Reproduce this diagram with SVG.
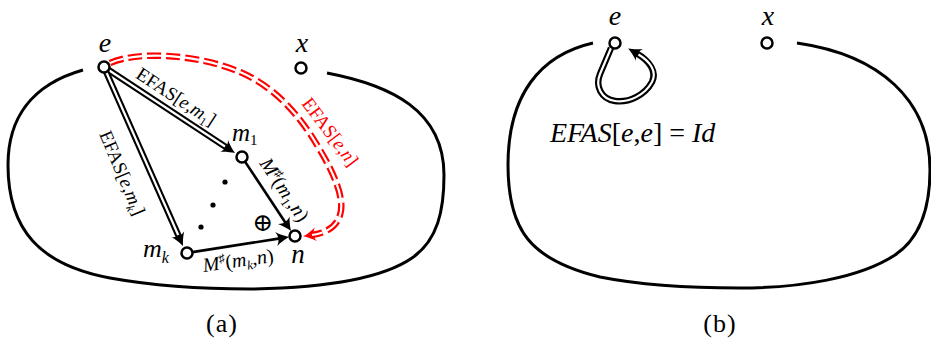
<svg xmlns="http://www.w3.org/2000/svg" width="931" height="339" viewBox="0 0 931 339" font-family="Liberation Serif, Times New Roman, serif">
<style>
.outline{fill:none;stroke:#000;stroke-width:3}
.node{fill:#fff;stroke:#000;stroke-width:2.5}
.dbo{fill:none;stroke:#000;stroke-width:6.5}
.dbi{fill:none;stroke:#fff;stroke-width:2.2}
.sgl{fill:none;stroke:#000;stroke-width:2.6}
.rdo{fill:none;stroke:#f00;stroke-width:6.5;stroke-dasharray:14 5}
.rdi{fill:none;stroke:#fff;stroke-width:2.2;stroke-dasharray:14 5}
.it{font-style:italic}
.lbl{font-size:19px}
.big{font-size:28px;font-style:italic}
.cap{font-size:26px;letter-spacing:1px}
</style>
<defs>
<marker id="ah" viewBox="-6 -8 16 16" refX="0" refY="0" markerWidth="16" markerHeight="16" markerUnits="userSpaceOnUse" orient="auto">
<path d="M9,0 C5,-1.5 0,-4 -4,-7 C-1,-3 -1,3 -4,7 C0,4 5,1.5 9,0 Z" fill="#000"/>
</marker>
<marker id="ahr" viewBox="-6 -8 16 16" refX="0" refY="0" markerWidth="16" markerHeight="16" markerUnits="userSpaceOnUse" orient="auto">
<path d="M9,0 C5,-1.5 0,-4 -4,-7 C-1,-3 -1,3 -4,7 C0,4 5,1.5 9,0 Z" fill="#f00"/>
</marker>
</defs>

<g id="outlines">
<path class="outline" d="M83,70 C30,85 8,120 8,165 C8,230 40,265 110,278 C160,287 210,289 250,289 C320,288 380,280 412,258 C438,240 444,210 444,175 C444,110 390,85 327,73"/>
<path class="outline" d="M593,43 C540,55 508,95 508,165 C508,230 530,260 600,277 C650,287 700,288 740,288 C800,288 860,278 895,255 C922,237 930,205 930,170 C930,100 880,55 797,43"/>
</g>

<g id="connectors">
<path class="rdo" d="M110,63 C140,50 200,55 240,72 C275,87 300,115 320,150 C335,175 345,200 340,215 C336,228 325,233 312,235" marker-end="url(#ahr)"/>
<path class="rdi" d="M110,63 C140,50 200,55 240,72 C275,87 300,115 320,150 C335,175 345,200 340,215 C336,228 325,233 312,235"/>
<path class="dbo" d="M108.6,70 L227.5,148.1" marker-end="url(#ah)"/>
<path class="dbi" d="M108.6,70 L225,146.5"/>
<path class="dbo" d="M106.2,72 L179.4,237.8" marker-end="url(#ah)"/>
<path class="dbi" d="M106.2,72 L178.2,235"/>
<path class="sgl" d="M245,161.6 L286,223.5" marker-end="url(#ah)"/>
<path class="sgl" d="M192.4,252.1 L280.1,238.4" marker-end="url(#ah)"/>
<path class="dbo" d="M611,48 L600,74 C595,86 601,99 615,101 C629,103 645,95 652,82 C657,72 650,61 636,53" marker-end="url(#ah)"/>
<path class="dbi" d="M611,48 L600,74 C595,86 601,99 615,101 C629,103 645,95 652,82 C657,72 651,62 638.5,54.5"/>
</g>

<g id="node-e-a"><circle class="node" cx="104" cy="67" r="5.5"/><text class="big" x="105" y="52" text-anchor="middle">e</text></g>
<g id="node-x-a"><circle class="node" cx="301" cy="68" r="5.5"/><text class="big" x="302" y="52" text-anchor="middle">x</text></g>
<g id="node-m1"><circle class="node" cx="242" cy="157" r="5.5"/><text x="232" y="141" font-size="25"><tspan class="it">m</tspan><tspan font-size="15" dy="4">1</tspan></text></g>
<g id="node-mk"><circle class="node" cx="187" cy="253" r="5.5"/><text x="143" y="257" font-size="26"><tspan class="it">m</tspan><tspan class="it" font-size="16" dy="6">k</tspan></text></g>
<g id="node-n"><circle class="node" cx="295" cy="236" r="5.5"/><text class="it" x="298" y="263" font-size="27" text-anchor="middle">n</text></g>
<g id="node-e-b"><circle class="node" cx="615" cy="43" r="5.5"/><text class="big" x="615" y="25" text-anchor="middle">e</text></g>
<g id="node-x-b"><circle class="node" cx="767" cy="43" r="5.5"/><text class="big" x="768" y="25" text-anchor="middle">x</text></g>

<g id="labels">
<text class="lbl" transform="translate(176,97) rotate(33)" text-anchor="middle" y="6">EFAS[<tspan class="it">e</tspan>,<tspan class="it">m</tspan><tspan font-size="12" dy="4">1</tspan><tspan dy="-4">]</tspan></text>
<text class="lbl" transform="translate(122,173) rotate(67)" text-anchor="middle" y="6">EFAS[<tspan class="it">e</tspan>,<tspan class="it">m</tspan><tspan class="it" font-size="12" dy="4">k</tspan><tspan dy="-4">]</tspan></text>
<text class="lbl" transform="translate(330,132) rotate(53)" text-anchor="middle" y="6" fill="#f00">EFAS[<tspan class="it">e</tspan>,<tspan class="it">n</tspan>]</text>
<text transform="translate(284,190) rotate(56)" text-anchor="middle" y="6" font-size="20"><tspan class="it">M</tspan><tspan font-size="12" dy="-7">♯</tspan><tspan dy="7">(</tspan><tspan class="it">m</tspan><tspan font-size="13" dy="4">1</tspan><tspan dy="-4">,</tspan><tspan class="it">n</tspan>)</text>
<text transform="translate(239,267) rotate(-8)" text-anchor="middle" font-size="20"><tspan class="it">M</tspan><tspan font-size="12" dy="-7">♯</tspan><tspan dy="7">(</tspan><tspan class="it">m</tspan><tspan class="it" font-size="13" dy="4">k</tspan><tspan dy="-4">,</tspan><tspan class="it">n</tspan>)</text>
<text x="263" y="231" font-size="25" text-anchor="middle" font-family="DejaVu Serif, serif">⊕</text>
<circle cx="225" cy="182" r="2.6" fill="#000"/>
<circle cx="213" cy="205" r="2.6" fill="#000"/>
<circle cx="201" cy="227" r="2.6" fill="#000"/>
<text x="550" y="142" font-size="28"><tspan class="it">EFAS</tspan>[<tspan class="it">e</tspan>,<tspan class="it">e</tspan>] = <tspan class="it">Id</tspan></text>
<text class="cap" x="222" y="332" text-anchor="middle">(a)</text>
<text class="cap" x="720" y="332" text-anchor="middle">(b)</text>
</g>
</svg>
